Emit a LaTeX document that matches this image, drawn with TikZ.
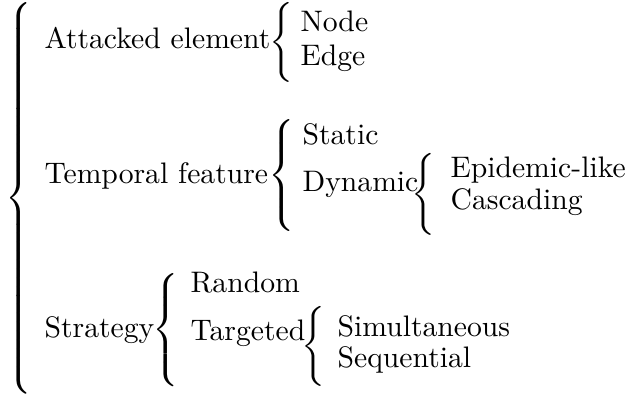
\documentclass[tikz,border=0pt]{standalone}
\usepackage{graphicx}

% one drawing unit
\newdimen\ux \ux=0.337pt

% A left brace stretched to an exact total height
\newsavebox\bracebox
\newcommand\bracesized[1]{%
  \sbox\bracebox{$\delimiterfactor=1000 \delimitershortfall=0pt
    \nulldelimiterspace=0pt
    \left\{\vcenter{\hrule height #1 width 0pt}\right.$}%
  \resizebox*{\wd\bracebox}{#1}{\usebox\bracebox}}
% A left brace at its natural extensible size
\newcommand\bracenatural[1]{%
  $\delimiterfactor=1000 \delimitershortfall=0pt \nulldelimiterspace=0pt
    \left\{\vcenter{\hrule height #1 width 0pt}\right.$}

\begin{document}
\begin{tikzpicture}[x=\ux,y=-\ux,
  term/.style={anchor=base west,inner sep=0pt},
  brace/.style={anchor=center,inner sep=0pt}]
  \useasboundingbox (0,0) rectangle (625,394);

  % outermost brace
  \node[brace] (rootbrace) at (18.5,198) {\bracenatural{386\ux}};

  % attacked element
  \node[term] (elem) at (44,49) {Attacked element};
  \node[brace] (elembrace) at (281,42) {\bracesized{80\ux}};
  \node[term] (nodeterm) at (300,32) {Node};
  \node[term] (edgeterm) at (300,66) {Edge};

  % temporal feature
  \node[term] (temporal) at (44,184) {Temporal feature};
  \node[brace] (tempbrace) at (281.5,176) {\bracesized{112\ux}};
  \node[term] (static) at (302,145) {Static};
  \node[term] (dynamic) at (302,192) {Dynamic};
  \node[brace] (dynbrace) at (423,194) {\bracesized{82\ux}};
  \node[term] (epidemic) at (450,178) {Epidemic-like};
  \node[term] (cascading) at (450,210) {Cascading};

  % strategy
  \node[term] (strategy) at (44,338) {Strategy};
  \node[brace] (stratbrace) at (166,330) {\bracesized{113\ux}};
  \node[term] (random) at (190,293) {Random};
  \node[term] (targeted) at (190,341) {Targeted};
  \node[brace] (targbrace) at (313.5,346) {\bracesized{80\ux}};
  \node[term] (simult) at (337,337) {Simultaneous};
  \node[term] (sequential) at (337,368) {Sequential};
\end{tikzpicture}
\end{document}
